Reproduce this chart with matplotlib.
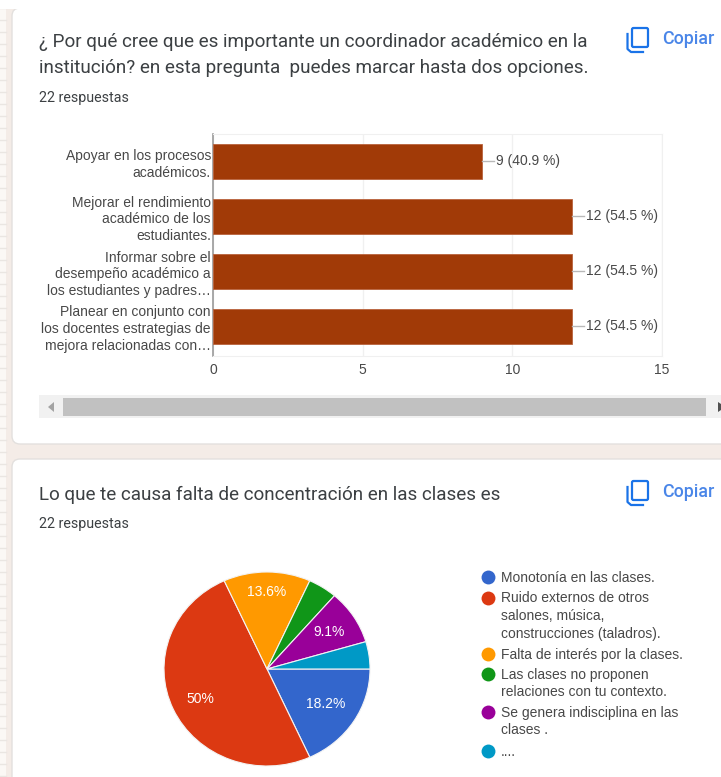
import matplotlib
matplotlib.use('Agg')
import matplotlib.pyplot as plt
from matplotlib.patches import FancyBboxPatch, Rectangle, Polygon

W, H = 721, 777

# datos del grafico de barras
bar_labels = ['Apoyar en los procesos\nacadémicos.',
              'Mejorar el rendimiento\nacadémico de los\nestudiantes.',
              'Informar sobre el\ndesempeño académico a\nlos estudiantes y padres…',
              'Planear en conjunto con\nlos docentes estrategias de\nmejora relacionadas con…']
bar_values = [9, 12, 12, 12]
bar_texts = ['9 (40.9 %)', '12 (54.5 %)', '12 (54.5 %)', '12 (54.5 %)']
bar_ticks = [0, 5, 10, 15]

# datos del grafico circular
pie_values = [4, 11, 3, 1, 2, 1]
pie_colors = ['#3366cc', '#dc3912', '#ff9900', '#109618', '#990099', '#0099c6']
pie_texts = ['18.2%', '50%', '13.6%', '', '9.1%', '']
legend_labels = ['Monotonía en las clases.',
                 'Ruido externos de otros\nsalones, música,\nconstrucciones (taladros).',
                 'Falta de interés por la clases.',
                 'Las clases no proponen\nrelaciones con tu contexto.',
                 'Se genera indisciplina en las\nclases .',
                 '....']
legend_y = [577, 598, 654, 674, 712, 751]

title1 = ['¿ Por qué cree que es importante un coordinador académico en la',
          'institución? en esta pregunta  puedes marcar hasta dos opciones.']
title2 = 'Lo que te causa falta de concentración en las clases es'
answers = '22 respuestas'

TITLE = '#3c4043'
GREY = '#484848'
BLUE = '#1a73e8'
BODY = ['Liberation Sans', 'DejaVu Sans']


def axes_px(x0, y0, x1, y1, **kw):
    # ejes a partir de pixeles, y hacia abajo
    return fig.add_axes([x0 / W, 1 - y1 / H, (x1 - x0) / W, (y1 - y0) / H], **kw)


fig = plt.figure(figsize=(W / 100, H / 100), dpi=100, facecolor='#f4ece7')

# fondo de la pagina en pixeles
bg = axes_px(0, 0, W, H)
bg.set_xlim(0, W)
bg.set_ylim(H, 0)
bg.axis('off')

bg.add_patch(Rectangle((0, 0), 6, H, fc='#fbf8f5', ec='none'))
for y in range(8, H, 12):
    bg.plot([0, 6], [y, y], color='#eae6e2', lw=1)

for top, bottom in [(8, 444), (459, 800)]:
    bg.add_patch(FancyBboxPatch((12, top), W + 30, bottom - top,
                                boxstyle='round,pad=0,rounding_size=8',
                                fc='white', ec='#e3e0de', lw=1))
bg.add_patch(Rectangle((0, 0), W, 9, fc='white', ec='none', zorder=2))

# titulos
for y, line in zip([42, 68], title1):
    bg.text(39, y, line, family='Roboto', fontsize=13.6, color=TITLE, va='center')
bg.text(39, 495, title2, family='Roboto', fontsize=13.6, color=TITLE, va='center')
bg.text(39, 98, answers, family='Roboto', fontsize=10.3, color=TITLE, va='center')
bg.text(39, 524, answers, family='Roboto', fontsize=10.3, color=TITLE, va='center')

# icono y texto de copiar
for yc in [39, 492]:
    bg.add_patch(FancyBboxPatch((632, yc - 11), 16, 19, boxstyle='round,pad=0,rounding_size=1.5',
                                fc='none', ec=BLUE, lw=1.6))
    bg.plot([627.5, 627.5, 631, 643], [yc - 5, yc + 10, yc + 13, yc + 13], color=BLUE, lw=1.6)
    bg.text(662, yc, 'Copiar', family='Roboto', fontsize=12.8, color='#4a86e8', va='center',
            fontweight='medium')

# barra de desplazamiento
bg.add_patch(Rectangle((39, 395), W - 39, 23, fc='#f1f1f1', ec='none'))
bg.add_patch(Rectangle((63, 398), 643, 18, fc='#c1c1c1', ec='none'))
bg.add_patch(Polygon([[48, 407], [54, 402], [54, 412]], fc='#a3a3a3', ec='none'))
bg.add_patch(Polygon([[718, 402], [721, 404], [721, 410], [718, 412]], fc='#505050', ec='none'))

# grafico de barras
ax = axes_px(213, 134, 662, 356)
ax.set_xlim(0, 15)
ax.set_ylim(3.54, -0.5)
ax.patch.set_alpha(0)
ypos = list(range(len(bar_values)))
ax.barh(ypos, bar_values, height=0.63, color='#a13a07', edgecolor='#b9623c', linewidth=0.6, zorder=3)
ax.set_xticks(bar_ticks)
ax.set_xticklabels(bar_ticks, family=BODY, fontsize=10, color=GREY)
ax.set_yticks(ypos)
ax.set_yticklabels(bar_labels, family=BODY, fontsize=10, color=GREY, linespacing=1.25,
                   ha='right', multialignment='right')
ax.tick_params(length=0, pad=1.5)
ax.tick_params(axis='x', pad=5)
ax.grid(axis='x', color='#f0f0f0', lw=1, zorder=0)
for spine in ax.spines.values():
    spine.set_color('#f0f0f0')
ax.spines['left'].set_color('#9a9a9a')
ax.spines['left'].set_linewidth(1.2)

for y, v, t in zip(ypos, bar_values, bar_texts):
    ax.plot([v, v + 0.4], [y, y], color='#b8b8b8', lw=1, zorder=3, clip_on=False)
    ax.text(v + 0.47, y, t, family=BODY, fontsize=10, color=GREY, va='center', zorder=4)

# grafico circular, un poco ensanchado como en la captura
pie_ax = axes_px(164, 572, 370, 766)
wedges, _ = pie_ax.pie(pie_values, colors=pie_colors, startangle=0, counterclock=False, radius=1.0,
                       wedgeprops={'edgecolor': '#f3f3f3', 'linewidth': 0.8})
pie_ax.set_aspect('auto')
pie_ax.set_xlim(-1, 1)
pie_ax.set_ylim(-1, 1)
for (dx, dy), t in zip([(0.57, -0.36), (-0.65, -0.31), (0.0, 0.79), (0, 0), (0.60, 0.38), (0, 0)], pie_texts):
    if t:
        pie_ax.text(dx, dy, t, family=BODY, fontsize=10, color='white', ha='center', va='center')

# leyenda
for y, label, c in zip(legend_y, legend_labels, pie_colors):
    bg.scatter([488], [y], s=100, color=c, linewidths=0, zorder=3)
    bg.text(501, y - 6.5, label, family=BODY, fontsize=10, color=GREY, va='top',
            linespacing=1.32)

fig.savefig('out.png', dpi=100, facecolor=fig.get_facecolor())
